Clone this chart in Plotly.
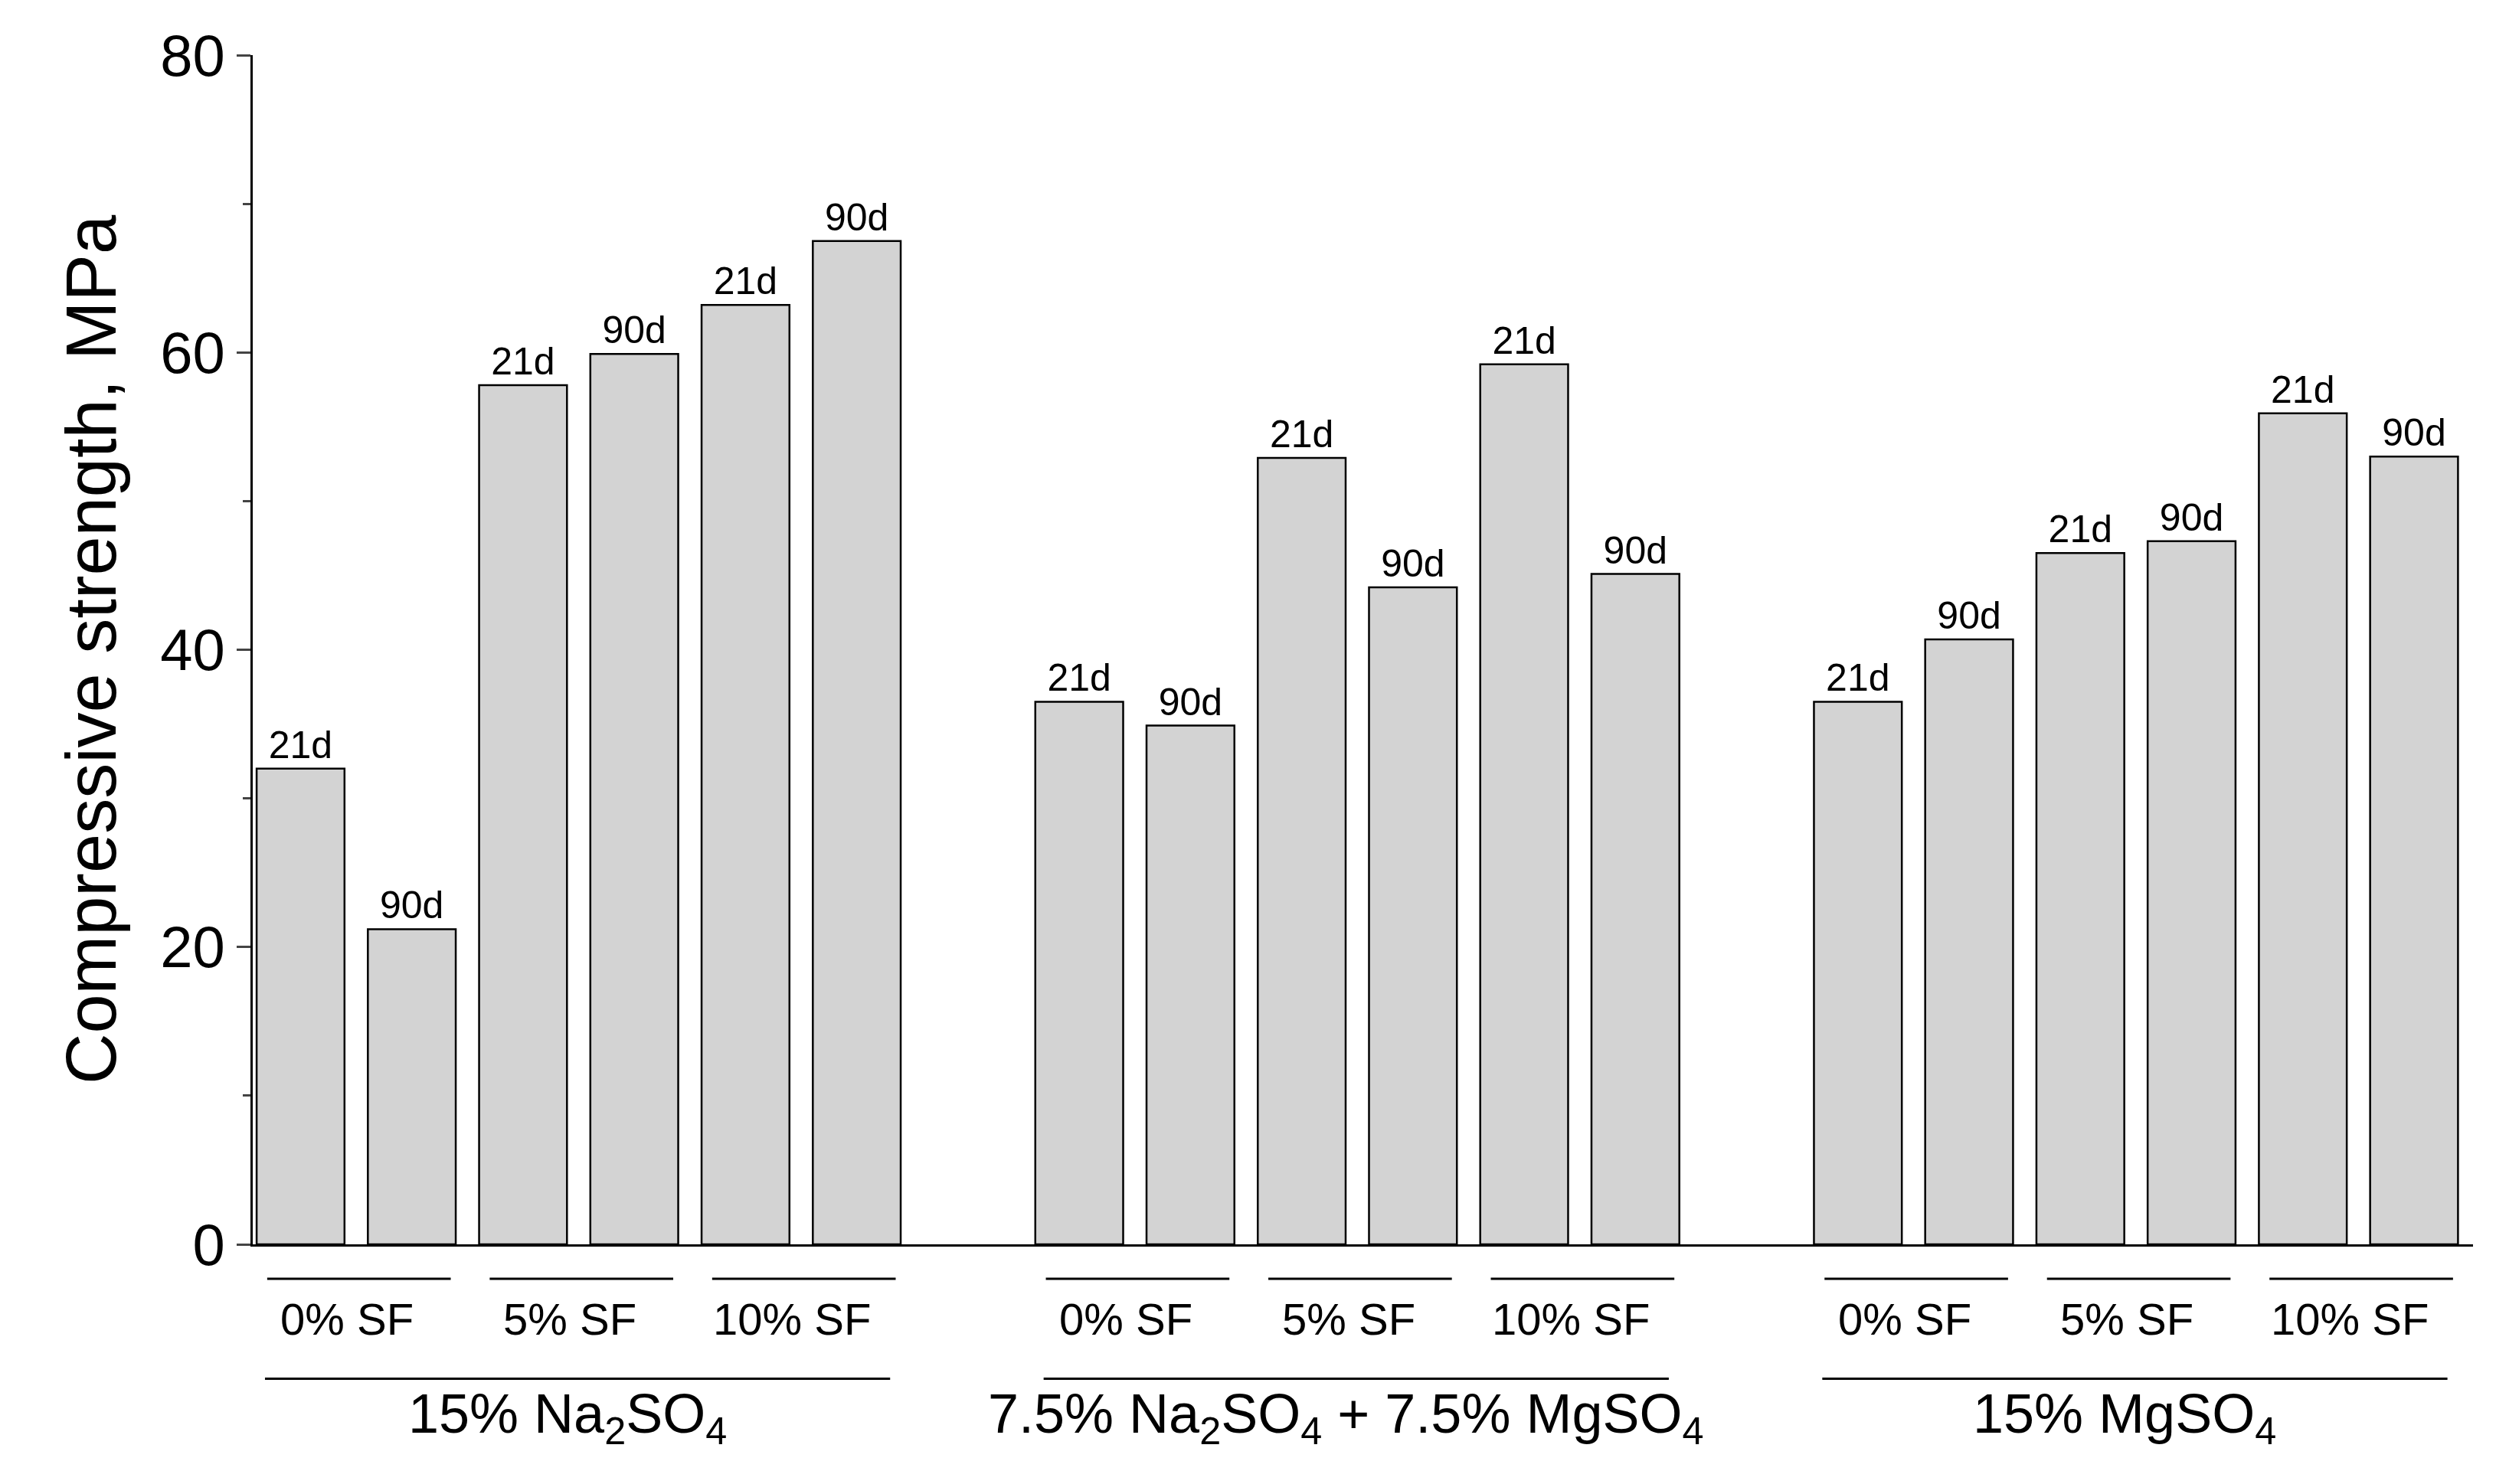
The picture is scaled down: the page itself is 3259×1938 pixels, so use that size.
import plotly.graph_objects as go

values = [32.0, 21.2, 57.8, 59.9, 63.2, 67.5,
          36.5, 34.9, 52.9, 44.2, 59.2, 45.1,
          36.5, 40.7, 46.5, 47.3, 55.9, 53.0]
ages = ["21d", "90d"] * 9
sf_labels = ["0% SF", "5% SF", "10% SF"]
group_labels = ["15% Na<sub>2</sub>SO<sub>4</sub>",
                "7.5% Na<sub>2</sub>SO<sub>4</sub> + 7.5% MgSO<sub>4</sub>",
                "15% MgSO<sub>4</sub>"]

xs = [g * 7 + i for g in range(3) for i in range(6)]
font = "Liberation Sans, Arial, sans-serif"

fig = go.Figure(go.Bar(
    x=xs, y=values, width=0.79, text=ages, textposition="outside",
    textfont=dict(size=50, color="black", family=font),
    marker=dict(color="#d3d3d3", line=dict(color="black", width=2.5)),
    cliponaxis=False))

shapes, annots = [], []
for g in range(3):
    base = g * 7
    shapes.append(dict(type="line", xref="x", yref="paper", x0=base - 0.32, x1=base + 5.3,
                       y0=-0.113, y1=-0.113, line=dict(color="black", width=3)))
    annots.append(dict(x=base + 2.4, y=-0.146, xref="x", yref="paper", text=group_labels[g],
                       showarrow=False, font=dict(size=72, family=font, color="black"), yanchor="middle"))
    for j in range(3):
        s = base + 2 * j
        shapes.append(dict(type="line", xref="x", yref="paper", x0=s - 0.3, x1=s + 1.35,
                           y0=-0.029, y1=-0.029, line=dict(color="black", width=3)))
        annots.append(dict(x=s + 0.42, y=-0.063, xref="x", yref="paper", text=sf_labels[j],
                           showarrow=False, font=dict(size=58, family=font, color="black"), yanchor="middle"))

fig.update_layout(
    width=3259, height=1938, plot_bgcolor="white", paper_bgcolor="white",
    margin=dict(l=322, r=38, t=64, b=321), showlegend=False,
    shapes=shapes, annotations=annots,
    font=dict(family=font, color="black"),
    xaxis=dict(range=[-0.43, 19.53], showticklabels=False, ticks="", showline=True,
               linecolor="black", linewidth=3, showgrid=False, zeroline=False),
    yaxis=dict(range=[0, 80], tickvals=[0, 20, 40, 60, 80], ticks="outside", ticklen=18,
               tickwidth=3, showline=True, linecolor="black", linewidth=3, showgrid=False,
               zeroline=False, tickfont=dict(size=76),
               minor=dict(tickvals=[10, 30, 50, 70], ticks="outside", ticklen=10, tickwidth=3),
               title=dict(text="Compressive strength, MPa", font=dict(size=92), standoff=28)),
)
fig.write_html("out.html")
